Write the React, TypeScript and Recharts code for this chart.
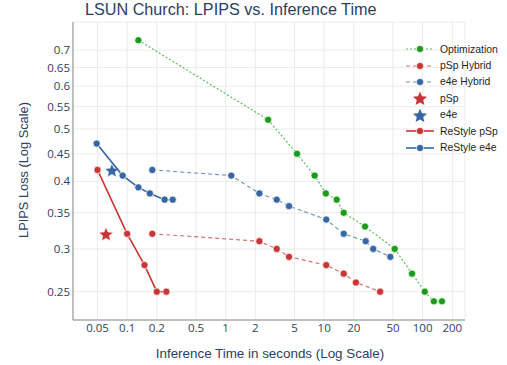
import React from "react";
import { ScatterChart, Scatter, XAxis, YAxis, CartesianGrid } from "recharts";

// inference time (s) and LPIPS loss
const optTime = [0.13, 2.7, 5.3, 8, 10.4, 13.4, 15.8, 26, 52, 78, 105, 130, 157];
const optLoss = [0.73, 0.52, 0.45, 0.41, 0.38, 0.37, 0.35, 0.33, 0.3, 0.27, 0.25, 0.24, 0.24];

const pspHybridTime = [0.18, 2.2, 3.3, 4.4, 10.5, 15.8, 21, 37];
const pspHybridLoss = [0.32, 0.31, 0.3, 0.29, 0.28, 0.27, 0.26, 0.25];

const e4eHybridTime = [0.18, 1.14, 2.2, 3.3, 4.4, 10.5, 15.8, 26.4, 31.5, 47];
const e4eHybridLoss = [0.42, 0.41, 0.38, 0.37, 0.36, 0.34, 0.32, 0.31, 0.3, 0.29];

const pspTime = [0.061];
const pspLoss = [0.32];
const e4eTime = [0.07];
const e4eLoss = [0.42];

const restylePspTime = [0.05, 0.1, 0.15, 0.2, 0.25];
const restylePspLoss = [0.42, 0.32, 0.28, 0.25, 0.25];

const restyleE4eTime = [0.049, 0.09, 0.13, 0.17, 0.24, 0.29];
const restyleE4eLoss = [0.47, 0.41, 0.39, 0.38, 0.37, 0.37];

const xTicks = [0.05, 0.1, 0.2, 0.5, 1, 2, 5, 10, 20, 50, 100, 200];
const yTicks = [0.25, 0.3, 0.35, 0.4, 0.45, 0.5, 0.55, 0.6, 0.65, 0.7];

const GREEN = "#1a9c1a";
const RED = "#c93535";
const BLUE = "#3667a3";
const TEXT = "#2a3f5f";

const toPoints = (t: number[], l: number[]) => t.map((x, i) => ({ x, y: l[i] }));

const series = [
  { name: "Optimization", data: toPoints(optTime, optLoss), color: GREEN, dash: "2 2", kind: "line" },
  { name: "pSp Hybrid", data: toPoints(pspHybridTime, pspHybridLoss), color: RED, dash: "4 3", kind: "line" },
  { name: "e4e Hybrid", data: toPoints(e4eHybridTime, e4eHybridLoss), color: BLUE, dash: "4 3", kind: "line" },
  { name: "pSp", data: toPoints(pspTime, pspLoss), color: RED, dash: "", kind: "star" },
  { name: "e4e", data: toPoints(e4eTime, e4eLoss), color: BLUE, dash: "", kind: "star" },
  { name: "ReStyle pSp", data: toPoints(restylePspTime, restylePspLoss), color: RED, dash: "", kind: "line" },
  { name: "ReStyle e4e", data: toPoints(restyleE4eTime, restyleE4eLoss), color: BLUE, dash: "", kind: "line" },
];

const starPath = (cx: number, cy: number, R: number) => {
  const r = R * 0.45;
  let d = "";
  for (let i = 0; i < 10; i++) {
    const rad = i % 2 === 0 ? R : r;
    const a = -Math.PI / 2 + (i * Math.PI) / 5;
    d += (i === 0 ? "M" : "L") + (cx + rad * Math.cos(a)).toFixed(2) + "," + (cy + rad * Math.sin(a)).toFixed(2);
  }
  return d + "Z";
};

const dot = (color: string) => (p: any) => (
  <circle cx={p.cx} cy={p.cy} r={3.6} fill={color} stroke="#fff" strokeWidth={0.7} />
);
const star = (color: string) => (p: any) => (
  <path d={starPath(p.cx, p.cy + 1, 7.5)} fill={color} stroke="#fff" strokeWidth={0.5} />
);

// legend drawn outside the chart so it takes no room from the plot
const LegendBox = () => (
  <div
    style={{
      position: "absolute",
      left: 405,
      top: 41,
      fontFamily: "'Liberation Sans', Arial, sans-serif",
      fontSize: 10.4,
      color: "#1f1f1f",
    }}
  >
    {series.map((s) => (
      <div key={s.name} style={{ display: "flex", alignItems: "center", height: 16.4 }}>
        <svg width={30} height={16} style={{ marginRight: 5 }}>
          {s.kind === "star" ? (
            <path d={starPath(15, 9, 7.5)} fill={s.color} />
          ) : (
            <>
              <line
                x1={1}
                x2={29}
                y1={8}
                y2={8}
                stroke={s.color}
                strokeWidth={s.dash ? 1.2 : 1.6}
                strokeDasharray={s.dash || undefined}
                strokeOpacity={s.dash ? 0.7 : 1}
              />
              <circle cx={15} cy={8} r={3.6} fill={s.color} stroke="#fff" strokeWidth={0.7} />
            </>
          )}
        </svg>
        <span style={{ whiteSpace: "nowrap" }}>{s.name}</span>
      </div>
    ))}
  </div>
);

export default function App() {
  const tickStyle = { fill: TEXT, fontSize: 11.5, fontFamily: "'Open Sans', sans-serif" };
  return (
    <div style={{ position: "absolute", left: 0, top: 0, width: 507, height: 365, background: "#fff" }}>
      <div
        style={{
          position: "absolute",
          left: 85,
          top: 0,
          fontFamily: "'Liberation Sans', Arial, sans-serif",
          fontSize: 16.2,
          lineHeight: "18px",
          color: TEXT,
          whiteSpace: "nowrap",
        }}
      >
        LSUN Church: LPIPS vs. Inference Time
      </div>
      <div
        style={{
          position: "absolute",
          left: 23,
          top: 170,
          transform: "translate(-50%, -50%) rotate(-90deg)",
          fontFamily: "'Liberation Sans', Arial, sans-serif",
          fontSize: 12.8,
          color: TEXT,
          whiteSpace: "nowrap",
        }}
      >
        LPIPS Loss (Log Scale)
      </div>
      <div
        style={{
          position: "absolute",
          left: 270,
          top: 353,
          transform: "translate(-50%, -50%)",
          fontFamily: "'Liberation Sans', Arial, sans-serif",
          fontSize: 13.4,
          color: TEXT,
          whiteSpace: "nowrap",
        }}
      >
        Inference Time in seconds (Log Scale)
      </div>
      <div style={{ position: "absolute", left: 0, top: 0 }}>
        <ScatterChart width={507} height={365} margin={{ top: 22, right: 42, bottom: 20, left: 0 }}>
          <CartesianGrid stroke="#ebebeb" strokeWidth={1} />
          <XAxis
            type="number"
            dataKey="x"
            scale="log"
            domain={[0.0282, 269]}
            ticks={xTicks}
            allowDataOverflow
            height={25}
            tickLine={false}
            tickSize={4}
            tickMargin={0}
            axisLine={{ stroke: "#8a8a8a" }}
            tick={tickStyle}
            interval={0}
          />
          <YAxis
            type="number"
            dataKey="y"
            scale="log"
            domain={[0.2216, 0.789]}
            ticks={yTicks}
            allowDataOverflow
            width={73}
            tickLine={false}
            tickSize={3}
            tickMargin={0}
            axisLine={{ stroke: "#8a8a8a" }}
            tick={tickStyle}
            interval={0}
          />
          {series.map((s) =>
            s.kind === "star" ? (
              <Scatter key={s.name} name={s.name} data={s.data} shape={star(s.color)} isAnimationActive={false} />
            ) : (
              <Scatter
                key={s.name}
                name={s.name}
                data={s.data}
                shape={dot(s.color)}
                line={{
                  stroke: s.color,
                  strokeWidth: s.dash ? 1.2 : 1.6,
                  strokeDasharray: s.dash || undefined,
                  strokeOpacity: s.dash ? 0.7 : 1,
                }}
                lineType="joint"
                isAnimationActive={false}
              />
            )
          )}
        </ScatterChart>
      </div>
      <LegendBox />
    </div>
  );
}
